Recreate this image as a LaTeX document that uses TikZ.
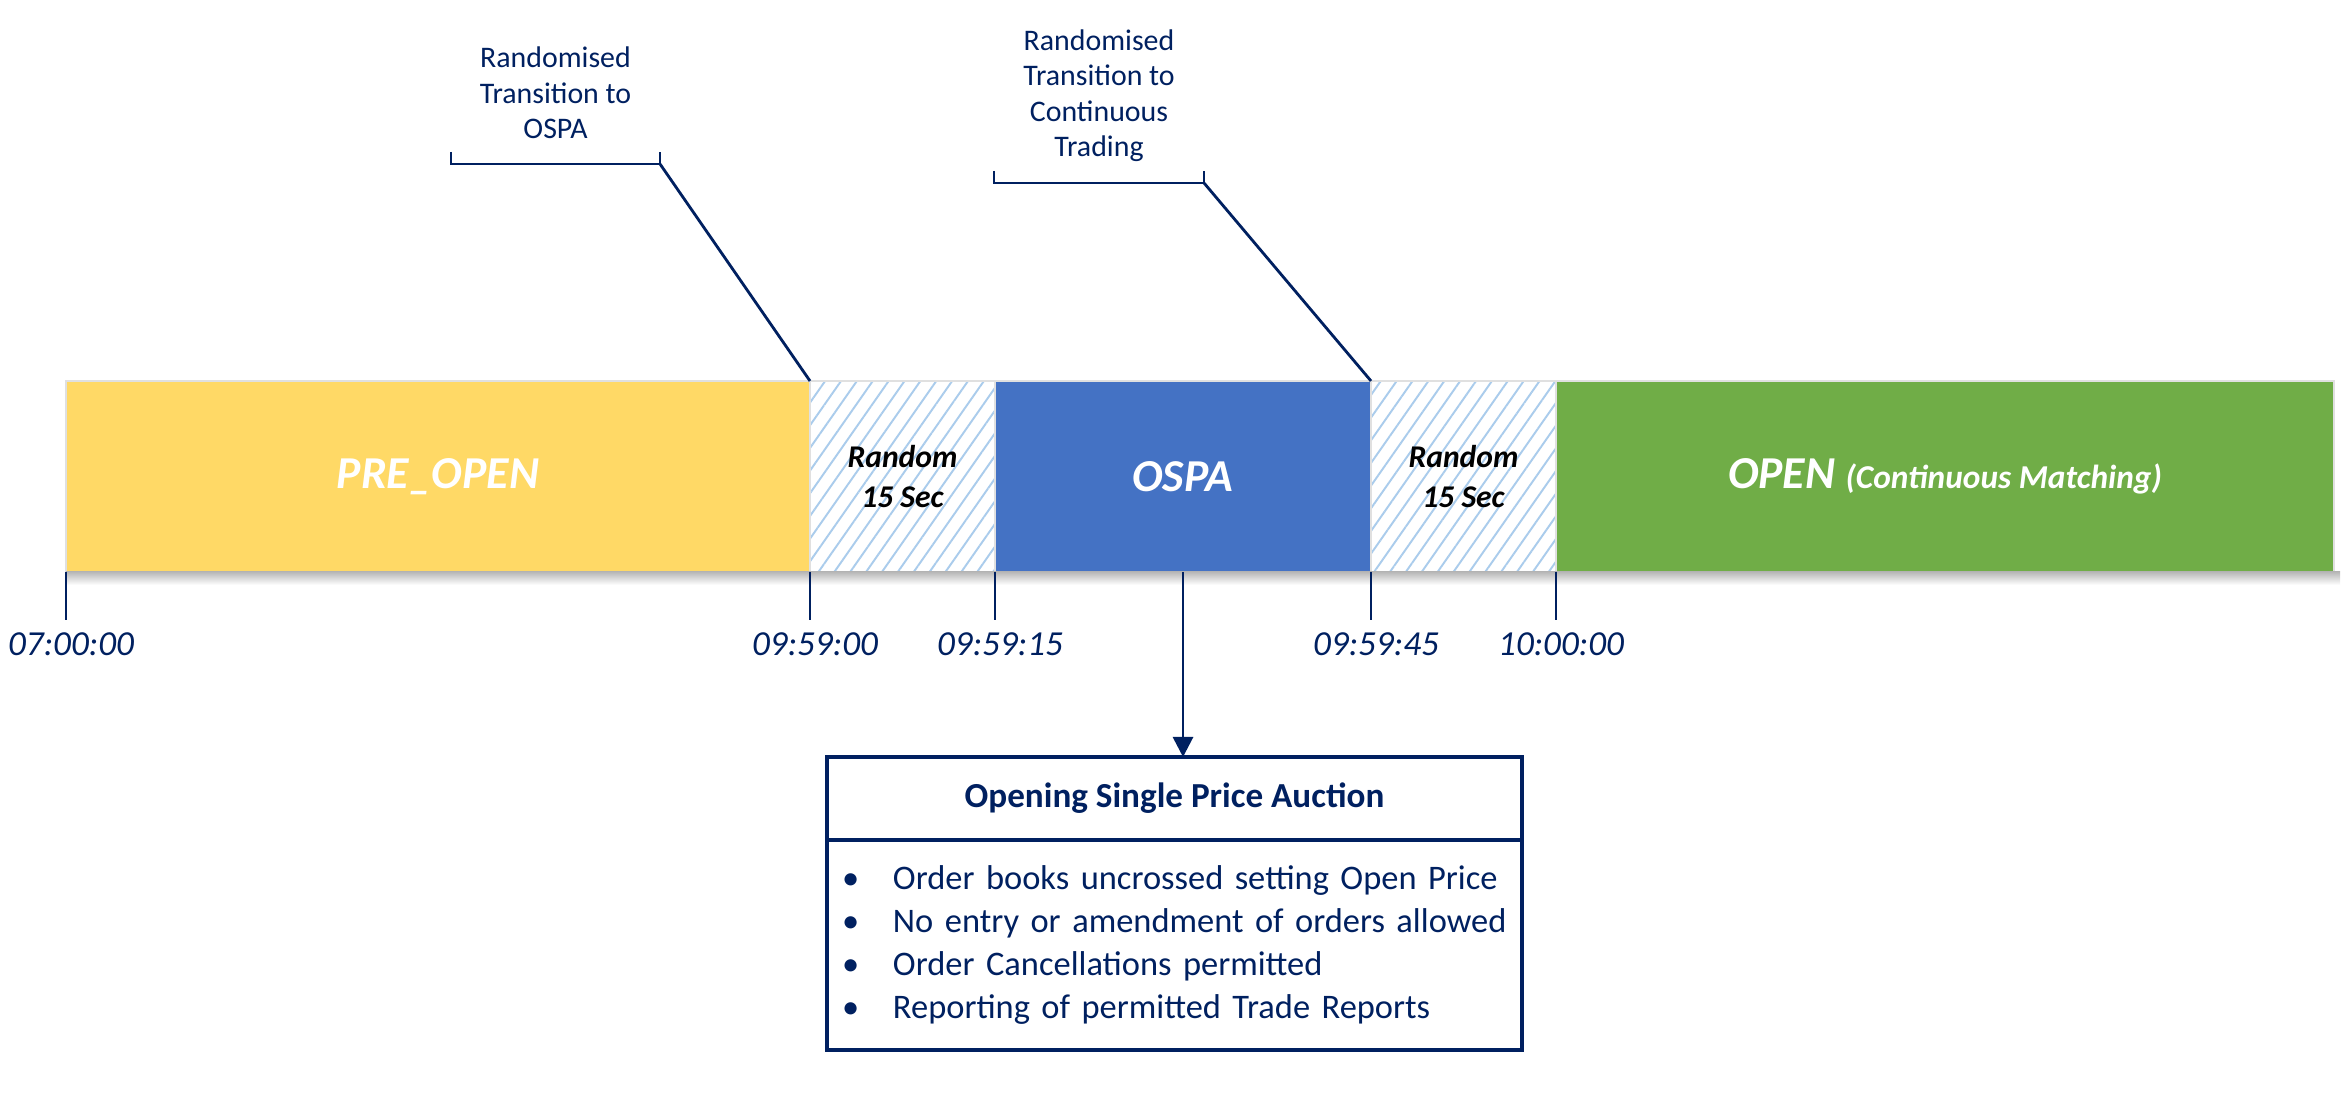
\documentclass[tikz,border=0pt]{standalone}
\usepackage{fontspec}
\setmainfont{Carlito}
\usetikzlibrary{positioning, arrows.meta, patterns.meta}
\definecolor{preyellow}{RGB}{255, 217, 102}
\definecolor{ospablue}{RGB}{68, 114, 196}
\definecolor{opengreen}{RGB}{112, 173, 71}
\definecolor{navy}{RGB}{0, 32, 96}
\definecolor{hatchblue}{RGB}{170, 204, 236}
\newcommand{\rulebullet}[1]{\mbox{\makebox[0.61cm][l]{\hspace{0.1cm}\textbullet}#1}}

\begin{document}
\begin{tikzpicture}[
  seg/.style={rectangle, inner sep=0pt, outer sep=0pt, minimum height=1.91cm, draw=black!12, text=white, font=\fontsize{13}{15}\selectfont\bfseries\itshape},
  randseg/.style={seg, minimum width=1.85cm, text=black, align=center, font=\fontsize{9}{11.5}\selectfont\bfseries\itshape, preaction={fill=white}, pattern={Lines[angle=55, distance=3.7pt, line width=0.55pt]}, pattern color=hatchblue},
  timelabel/.style={inner sep=0pt, anchor=north, text=navy, font=\fontsize{10}{12}\selectfont\itshape},
  navyline/.style={draw=navy, line width=0.8pt},
  note/.style={inner sep=0pt, anchor=south, align=center, text depth=0pt, text=navy, font=\fontsize{8.5}{10}\selectfont},
  boxpart/.style={rectangle, draw=navy, line width=1.1pt, outer sep=0pt, minimum width=6.95cm, text=navy, font=\fontsize{10}{12.3}\selectfont}
]
\useasboundingbox (0,0) rectangle (23.51,11.06);

% The session bar: PRE_OPEN -> Random -> OSPA -> Random -> OPEN
\node[seg, fill=preyellow, minimum width=7.44cm, anchor=north west] (preopen) at (0.66,7.25) {PRE\_OPEN};
\node[randseg, right=0pt of preopen] (rand1) {Random\\15 Sec};
\node[seg, fill=ospablue, minimum width=3.76cm, right=0pt of rand1] (ospa) {OSPA};
\node[randseg, right=0pt of ospa] (rand2) {Random\\15 Sec};
\node[seg, fill=opengreen, minimum width=7.78cm, right=0pt of rand2] (open) {OPEN {\fontsize{9.5}{11}\selectfont(Continuous Matching)}};
\shade[top color=black!28, bottom color=white] (preopen.south west) rectangle ([xshift=0.06cm, yshift=-0.13cm]open.south east);

% Time ticks below the bar
\foreach \seg/\tm [count=\i] in {preopen/07:00:00, rand1/09:59:00, ospa/09:59:15, rand2/09:59:45, open/10:00:00}{
  \node[timelabel] (time\i) at ([xshift=0.5mm, yshift=-0.60cm]\seg.south west) {\tm};
  \coordinate (tickend\i) at ([yshift=1.2mm]time\i.north);
  \draw[navyline] (\seg.south west) -- (\seg.south west |- tickend\i);
}

% Brackets for the randomised transitions
\node[note] (note1) at (5.555,9.67) {Randomised\\Transition to\\OSPA};
\coordinate (b1l) at (4.51,9.42);
\coordinate (b1r) at (6.60,9.42);
\draw[navyline] ([yshift=1.2mm]b1l) -- (b1l) -- (b1r) -- ([yshift=1.2mm]b1r);
\draw[navyline] (b1r) -- (rand1.north west);

\node[note] (note2) at (10.99,9.49) {Randomised\\Transition to\\Continuous\\Trading};
\coordinate (b2l) at (9.94,9.23);
\coordinate (b2r) at (12.04,9.23);
\draw[navyline] ([yshift=1.2mm]b2l) -- (b2l) -- (b2r) -- ([yshift=1.2mm]b2r);
\draw[navyline] (b2r) -- (rand2.north west);

% OSPA details box
\node[boxpart, minimum height=0.83cm, font=\fontsize{10}{12}\selectfont\bfseries] (auction) at (11.745,3.075) {Opening Single Price Auction};
\node[boxpart, minimum height=2.10cm, below=0pt of auction, inner xsep=0.05cm, text width=6.85cm, align=left, font=\fontsize{9.8}{12.3}\selectfont] (rules) {%
  \rulebullet{Order books uncrossed setting Open Price}\\
  \rulebullet{No entry or amendment of orders allowed}\\
  \rulebullet{Order Cancellations permitted}\\
  \rulebullet{Reporting of permitted Trade Reports}};
\draw[navyline, -{Triangle[length=2mm, width=2mm]}] (ospa.south) -- (ospa.south |- auction.north);
\end{tikzpicture}
\end{document}
